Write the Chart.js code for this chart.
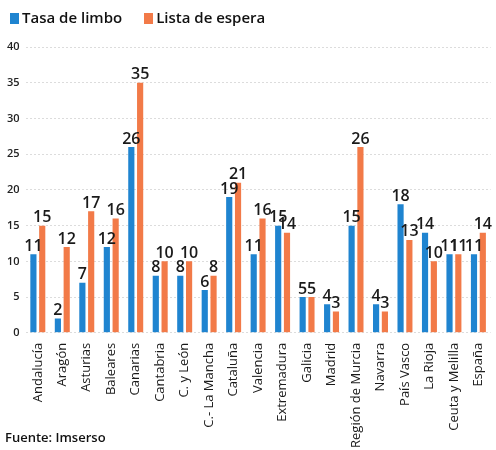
<!DOCTYPE html>
<html>
<head>
<meta charset="utf-8">
<script src="https://cdn.jsdelivr.net/npm/chart.js@4/dist/chart.umd.min.js"></script>
<style>
  body { margin: 0; background: #fff; font-family: "Open Sans", "Noto Sans", sans-serif; }
  #wrap { width: 496px; height: 450px; position: relative; }
  #legend { position: absolute; left: 10px; top: 7px; font-size: 15px; font-weight: 600; color: #111; }
  #legend span { display: inline-block; margin-right: 22px; }
  #legend i { display: inline-block; width: 9px; height: 11px; margin-right: 3px; vertical-align: -1px; }
  #source { position: absolute; left: 5px; top: 428px; font-size: 13px; font-weight: 600; color: #111; }
</style>
</head>
<body>
<div id="wrap">
  <canvas id="limboChart"></canvas>
  <div id="legend"></div>
  <div id="source">Fuente: Imserso</div>
</div>
<script>
  const regions = ["Andalucía", "Aragón", "Asturias", "Baleares", "Canarias", "Cantabria",
    "C. y León", "C.- La Mancha", "Cataluña", "Valencia", "Extremadura", "Galicia",
    "Madrid", "Región de Murcia", "Navarra", "País Vasco", "La Rioja", "Ceuta y Melilla", "España"];
  const tasaLimbo = [11, 2, 7, 12, 26, 8, 8, 6, 19, 11, 15, 5, 4, 15, 4, 18, 14, 11, 11];
  const listaEspera = [15, 12, 17, 16, 35, 10, 10, 8, 21, 16, 14, 5, 3, 26, 3, 13, 10, 11, 14];
  const yTicks = [0, 5, 10, 15, 20, 25, 30, 35, 40];

  const fontFamily = '"Open Sans", "Noto Sans", sans-serif';
  const blue = "#1f84d0";
  const orange = "#f27a48";

  // Draw the value above each bar
  const barLabels = {
    id: "barLabels",
    afterDatasetsDraw(chart) {
      const ctx = chart.ctx;
      ctx.save();
      ctx.font = "600 16px " + fontFamily;
      ctx.fillStyle = "#1a1a1a";
      ctx.textAlign = "center";
      ctx.textBaseline = "bottom";
      chart.data.datasets.forEach((ds, i) => {
        chart.getDatasetMeta(i).data.forEach((bar, j) => {
          ctx.fillText(ds.data[j], bar.x, bar.y);
        });
      });
      ctx.restore();
    },
  };

  const ctx = document.getElementById("limboChart").getContext("2d");
  const chart = new Chart(ctx, {
    type: "bar",
    data: {
      labels: regions,
      datasets: [
        {
          label: "Tasa de limbo",
          data: tasaLimbo,
          backgroundColor: blue,
          barPercentage: 0.7,
          categoryPercentage: 0.72,
        },
        {
          label: "Lista de espera",
          data: listaEspera,
          backgroundColor: orange,
          barPercentage: 0.7,
          categoryPercentage: 0.72,
        },
      ],
    },
    options: {
      responsive: true,
      maintainAspectRatio: false,
      animation: false,
      layout: { padding: { left: 1, right: 0, top: 47, bottom: 0 } },
      scales: {
        y: {
          min: 0,
          max: 40,
          afterBuildTicks: (axis) => { axis.ticks = yTicks.map((v) => ({ value: v })); },
          ticks: { color: "#222", font: { family: fontFamily, size: 11, weight: "600" }, padding: 6 },
          grid: { color: "#dcdcdc", drawTicks: false },
          border: { display: false, dash: [2, 2] },
        },
        x: {
          grid: { display: false },
          border: { display: false },
          ticks: {
            color: "#1a1a1a",
            maxRotation: 90,
            minRotation: 90,
            autoSkip: false,
            padding: 2,
            font: { family: fontFamily, size: 13, weight: "500" },
          },
        },
      },
      plugins: {
        legend: { display: false },
        tooltip: { enabled: false },
      },
    },
    plugins: [barLabels],
  });

  // HTML legend built from the datasets
  document.getElementById("legend").innerHTML = chart.data.datasets
    .map((ds) => `<span><i style="background:${ds.backgroundColor}"></i>${ds.label}</span>`)
    .join("");
</script>
</body>
</html>
